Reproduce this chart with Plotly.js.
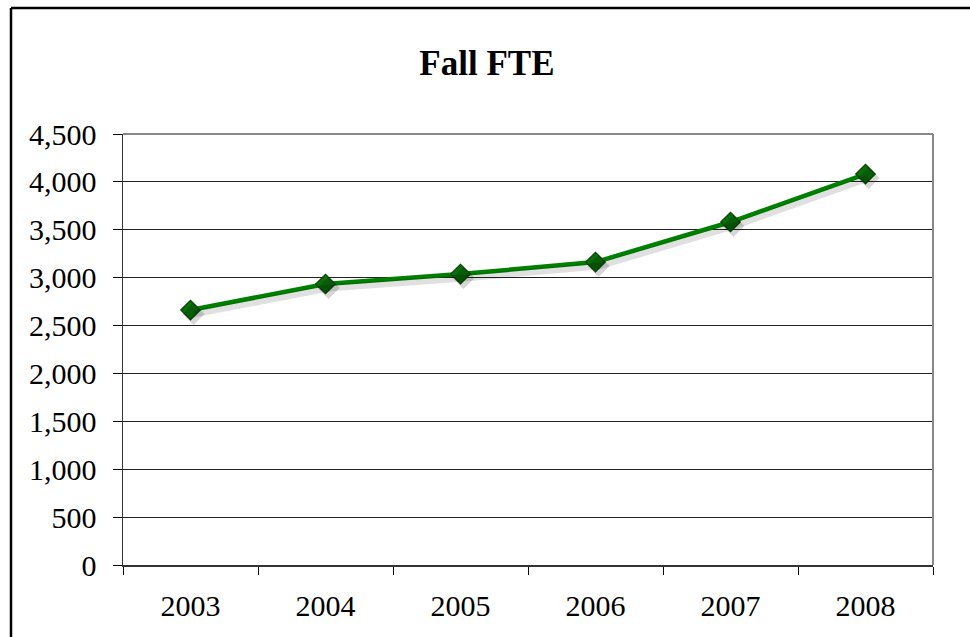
<!DOCTYPE html>
<html><head><meta charset="utf-8">
<script src="https://cdn.plot.ly/plotly-3.0.1.min.js"></script>
<style>html,body{margin:0;padding:0;background:#fff;}#chart{width:970px;height:637px;}</style>
</head><body><div id="chart"></div>
<script>
const years = ["2003","2004","2005","2006","2007","2008"];
const fte = [2662, 2934, 3038, 3163, 3581, 4082];
const yTicks = [0,500,1000,1500,2000,2500,3000,3500,4000,4500];
const yTickText = ["0","500","1,000","1,500","2,000","2,500","3,000","3,500","4,000","4,500"];

const W = 970, H = 637, L = 123, R = 37, T = 134, B = 72;
const pw = W - L - R, ph = H - T - B;
const px = x => (x - L) / pw;
const py = y => (H - B - y) / ph;
const SERIF = "Liberation Serif";
const shX = 3 * 6 / pw, shY = 4 * 4500 / ph;

const shadow = {
  x: years, y: fte, type: 'scatter', mode: 'lines+markers', xaxis: 'x2', yaxis: 'y2',
  line: {color: 'rgba(0,0,0,0.12)', width: 7},
  marker: {symbol: 'diamond', size: 17, color: 'rgba(0,0,0,0.16)'},
  hoverinfo: 'skip'
};
const trace = {
  x: years, y: fte, type: 'scatter', mode: 'lines+markers',
  line: {color: '#008000', width: 4.5},
  marker: {symbol: 'diamond', size: 15, color: '#0b6e0b', line: {color: '#034a03', width: 1.2}},
  hoverinfo: 'skip'
};
const layout = {
  width: W, height: H,
  margin: {l: L, r: R, t: T, b: B, pad: 0},
  paper_bgcolor: '#fff', plot_bgcolor: '#fff',
  showlegend: false,
  title: {text: '<b>Fall FTE</b>', x: 0.502, xanchor: 'center', y: 1 - 63/H, yanchor: 'middle',
    font: {family: SERIF, size: 35, color: '#000'}},
  font: {family: SERIF, size: 30, color: '#000'},
  xaxis: {type: 'category', range: [-0.5, 5.5], tickson: 'boundaries', ticks: 'outside', ticklen: 8,
    tickcolor: '#000', tickwidth: 1, showgrid: false, showline: true, linecolor: '#333', linewidth: 1.5,
    mirror: false, zeroline: false, ticklabelstandoff: 13, tickfont: {family: SERIF, size: 30}},
  yaxis: {range: [0, 4500], tickvals: yTicks, ticktext: yTickText, ticks: 'outside', ticklen: 9,
    tickcolor: '#000', tickwidth: 1, showgrid: true, gridcolor: '#222', gridwidth: 1,
    showline: true, linecolor: '#333', linewidth: 1.5, zeroline: false, ticklabelstandoff: 10, tickfont: {family: SERIF, size: 30}},
  xaxis2: {type: 'category', overlaying: 'x', range: [-0.5 - shX, 5.5 - shX], visible: false},
  yaxis2: {overlaying: 'y', range: [shY, 4500 + shY], visible: false},
  shapes: [
    {type: 'line', xref: 'paper', yref: 'paper', x0: px(L), x1: 1, y0: 1, y1: 1, line: {color: '#888', width: 2}},
    {type: 'line', xref: 'paper', yref: 'paper', x0: 1, x1: 1, y0: 0, y1: 1, line: {color: '#888', width: 2}},
    {type: 'line', xref: 'paper', yref: 'paper', x0: px(11), x1: px(11), y0: py(8), y1: py(H + 5), line: {color: '#000', width: 2.5}},
    {type: 'line', xref: 'paper', yref: 'paper', x0: px(11), x1: px(W + 5), y0: py(8), y1: py(8), line: {color: '#000', width: 2.5}}
  ]
};
Plotly.newPlot('chart', [shadow, trace], layout, {staticPlot: true, displayModeBar: false});
</script></body></html>
